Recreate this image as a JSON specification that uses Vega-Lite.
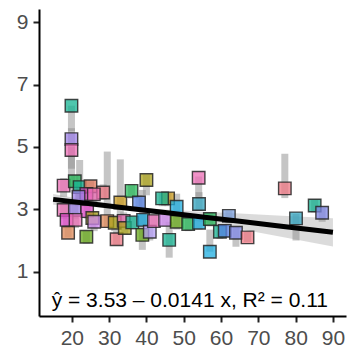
{
  "$schema": "https://vega.github.io/schema/vega-lite/v6.json",
  "autosize": {"type": "none"},
  "padding": {"left": 39, "top": 9, "right": 1, "bottom": 34},
  "width": 307,
  "height": 307,
  "config": {
    "view": {"stroke": null},
    "axis": {
      "grid": false,
      "title": null,
      "domainColor": "#000000",
      "domainWidth": 2,
      "tickColor": "#222222",
      "tickWidth": 2,
      "tickSize": 6,
      "labelColor": "#4d4d4d",
      "labelFont": "Liberation Sans",
      "labelFontSize": 21,
      "labelPadding": 5
    }
  },
  "datasets": {
    "pts": [
      {"x": 19.9, "y": 6.32, "lo": 5.5, "hi": 6.32, "g": "teal"},
      {"x": 19.9, "y": 5.25, "lo": 4.3, "hi": 5.6, "g": "purple"},
      {"x": 19.9, "y": 4.9, "lo": 3.7, "hi": 5.0, "g": "pink"},
      {"x": 17.8, "y": 3.76, "lo": 3.4, "hi": 4.0, "g": "pink"},
      {"x": 20.8, "y": 3.9, "lo": 3.5, "hi": 4.1, "g": "green"},
      {"x": 22.1, "y": 3.71, "lo": 3.3, "hi": 4.58, "g": "teal"},
      {"x": 25.0, "y": 3.74, "lo": 3.4, "hi": 3.9, "g": "redorange"},
      {"x": 28.4, "y": 3.54, "lo": 3.3, "hi": 3.8, "g": "salmon"},
      {"x": 23.9, "y": 3.49, "lo": 3.2, "hi": 3.7, "g": "magenta"},
      {"x": 25.9, "y": 3.48, "lo": 3.2, "hi": 3.7, "g": "pink"},
      {"x": 21.8, "y": 3.4, "lo": 3.1, "hi": 3.6, "g": "purple"},
      {"x": 17.8, "y": 2.98, "lo": 2.7, "hi": 3.2, "g": "pink"},
      {"x": 20.8, "y": 2.98, "lo": 2.7, "hi": 3.2, "g": "purple"},
      {"x": 24.1, "y": 2.94, "lo": 2.7, "hi": 3.2, "g": "magenta"},
      {"x": 18.6, "y": 2.66, "lo": 2.4, "hi": 2.9, "g": "magenta"},
      {"x": 21.0, "y": 2.66, "lo": 2.4, "hi": 2.9, "g": "pink"},
      {"x": 25.5, "y": 2.72, "lo": 2.4, "hi": 2.9, "g": "olive"},
      {"x": 26.0, "y": 2.6, "lo": 2.3, "hi": 2.8, "g": "violet"},
      {"x": 19.0, "y": 2.25, "lo": 2.1, "hi": 2.5, "g": "orange"},
      {"x": 23.9, "y": 2.12, "lo": 1.9, "hi": 2.3, "g": "ygreen"},
      {"x": 29.5, "y": 2.62, "lo": 2.4, "hi": 4.85, "g": "orange"},
      {"x": 31.5, "y": 2.57, "lo": 2.3, "hi": 2.8, "g": "olive"},
      {"x": 32.0, "y": 2.04, "lo": 1.85, "hi": 2.3, "g": "salmon"},
      {"x": 33.9, "y": 2.63, "lo": 2.4, "hi": 2.9, "g": "pink"},
      {"x": 34.2, "y": 2.4, "lo": 2.2, "hi": 2.6, "g": "olive"},
      {"x": 36.2, "y": 2.58, "lo": 2.35, "hi": 2.8, "g": "teal"},
      {"x": 39.1, "y": 2.66, "lo": 2.45, "hi": 2.9, "g": "cyan"},
      {"x": 38.9, "y": 2.18, "lo": 1.7, "hi": 3.62, "g": "ygreen"},
      {"x": 40.9, "y": 2.28, "lo": 2.0, "hi": 2.5, "g": "lavender"},
      {"x": 42.0, "y": 2.62, "lo": 2.4, "hi": 2.85, "g": "pink"},
      {"x": 33.0, "y": 3.22, "lo": 2.5, "hi": 4.6, "g": "gold"},
      {"x": 36.0, "y": 3.59, "lo": 3.35, "hi": 3.8, "g": "green"},
      {"x": 38.0, "y": 3.22, "lo": 3.0, "hi": 3.45, "g": "blue"},
      {"x": 40.0, "y": 3.94, "lo": 3.45, "hi": 4.1, "g": "olive"},
      {"x": 45.8, "y": 3.35, "lo": 3.1, "hi": 3.55, "g": "gold"},
      {"x": 44.2, "y": 3.35, "lo": 3.1, "hi": 3.55, "g": "teal"},
      {"x": 48.1, "y": 3.08, "lo": 2.9, "hi": 3.5, "g": "cyan"},
      {"x": 45.0, "y": 2.66, "lo": 2.45, "hi": 2.85, "g": "violet"},
      {"x": 48.1, "y": 2.6, "lo": 2.35, "hi": 2.85, "g": "ygreen"},
      {"x": 46.1, "y": 2.02, "lo": 1.45, "hi": 2.6, "g": "teal"},
      {"x": 51.2, "y": 2.53, "lo": 2.3, "hi": 2.75, "g": "green"},
      {"x": 54.1, "y": 2.57, "lo": 2.35, "hi": 2.8, "g": "cyan"},
      {"x": 57.0, "y": 2.69, "lo": 2.45, "hi": 2.9, "g": "green"},
      {"x": 54.0, "y": 4.01, "lo": 3.4, "hi": 4.05, "g": "pink"},
      {"x": 54.1, "y": 3.17, "lo": 2.95, "hi": 3.55, "g": "skyteal"},
      {"x": 62.1, "y": 2.79, "lo": 2.55, "hi": 2.95, "g": "lightblue"},
      {"x": 59.7, "y": 2.28, "lo": 2.05, "hi": 2.5, "g": "teal"},
      {"x": 61.0, "y": 2.31, "lo": 2.1, "hi": 2.5, "g": "blue"},
      {"x": 64.0, "y": 2.25, "lo": 1.8, "hi": 2.45, "g": "purpleblue"},
      {"x": 67.1, "y": 2.1, "lo": 1.95, "hi": 2.3, "g": "salmon"},
      {"x": 57.0, "y": 1.64, "lo": 1.64, "hi": 2.35, "g": "cyan"},
      {"x": 77.1, "y": 3.67, "lo": 3.36, "hi": 4.78, "g": "salmon"},
      {"x": 85.1, "y": 3.12, "lo": 2.9, "hi": 3.3, "g": "teal"},
      {"x": 87.1, "y": 2.89, "lo": 2.6, "hi": 3.05, "g": "purpleblue"},
      {"x": 80.1, "y": 2.71, "lo": 2.0, "hi": 2.85, "g": "skyteal"}
    ],
    "fit": [
      {"x": 15, "fit": 3.3185, "lo": 3.149, "hi": 3.489},
      {"x": 25, "fit": 3.1775, "lo": 3.083, "hi": 3.273},
      {"x": 35, "fit": 3.0365, "lo": 2.987, "hi": 3.087},
      {"x": 45, "fit": 2.8955, "lo": 2.801, "hi": 2.991},
      {"x": 55, "fit": 2.7545, "lo": 2.585, "hi": 2.925},
      {"x": 65, "fit": 2.6135, "lo": 2.365, "hi": 2.863},
      {"x": 75, "fit": 2.4725, "lo": 2.144, "hi": 2.802},
      {"x": 90, "fit": 2.261, "lo": 1.811, "hi": 2.711}
    ]
  },
  "layer": [
    {
      "data": {"name": "fit"},
      "mark": {"type": "area", "color": "#bdbdbd", "opacity": 0.55},
      "encoding": {
        "x": {"field": "x", "type": "quantitative", "scale": {"domain": [11.2, 93.5], "nice": false, "zero": false}, "axis": {"values": [20, 30, 40, 50, 60, 70, 80, 90]}},
        "y": {"field": "lo", "type": "quantitative", "scale": {"domain": [-0.42, 9.42], "nice": false, "zero": false}, "axis": {"values": [1, 3, 5, 7, 9]}},
        "y2": {"field": "hi"}
      }
    },
    {
      "data": {"name": "pts"},
      "mark": {"type": "rule", "color": "#8c8c8c", "strokeWidth": 7, "opacity": 0.5},
      "encoding": {
        "x": {"field": "x", "type": "quantitative"},
        "y": {"field": "lo", "type": "quantitative"},
        "y2": {"field": "hi"}
      }
    },
    {
      "data": {"name": "pts"},
      "mark": {"type": "point", "shape": "square", "filled": true, "size": 156, "fillOpacity": 0.75, "stroke": "#262626", "strokeWidth": 1.4, "strokeOpacity": 0.85},
      "encoding": {
        "x": {"field": "x", "type": "quantitative"},
        "y": {"field": "y", "type": "quantitative"},
        "fill": {
          "field": "g", "type": "nominal", "legend": null,
          "scale": {
            "domain": ["teal", "green", "olive", "ygreen", "purple", "lavender", "violet", "pink", "magenta", "salmon", "orange", "redorange", "gold", "blue", "cyan", "skyteal", "lightblue", "purpleblue"],
            "range": ["#14b392", "#26b95a", "#aca31a", "#67a818", "#9b7fe6", "#b49ef5", "#d28af2", "#ec6db6", "#e24ac9", "#ef7884", "#e08a58", "#de7558", "#c99a1c", "#5a86e8", "#1eaee0", "#33a5c2", "#7da2df", "#7d86e6"]
          }
        }
      }
    },
    {
      "data": {"name": "fit"},
      "mark": {"type": "line", "color": "#000000", "strokeWidth": 5},
      "encoding": {
        "x": {"field": "x", "type": "quantitative"},
        "y": {"field": "fit", "type": "quantitative"}
      }
    },
    {
      "data": {"values": [{"label": "ŷ = 3.53 – 0.0141 x, R² = 0.11"}]},
      "mark": {"type": "text", "align": "left", "baseline": "alphabetic", "font": "Liberation Sans", "fontSize": 21, "color": "#000000"},
      "encoding": {
        "x": {"datum": 14.6, "type": "quantitative"},
        "y": {"datum": -0.14, "type": "quantitative"},
        "text": {"field": "label"}
      }
    }
  ]
}
